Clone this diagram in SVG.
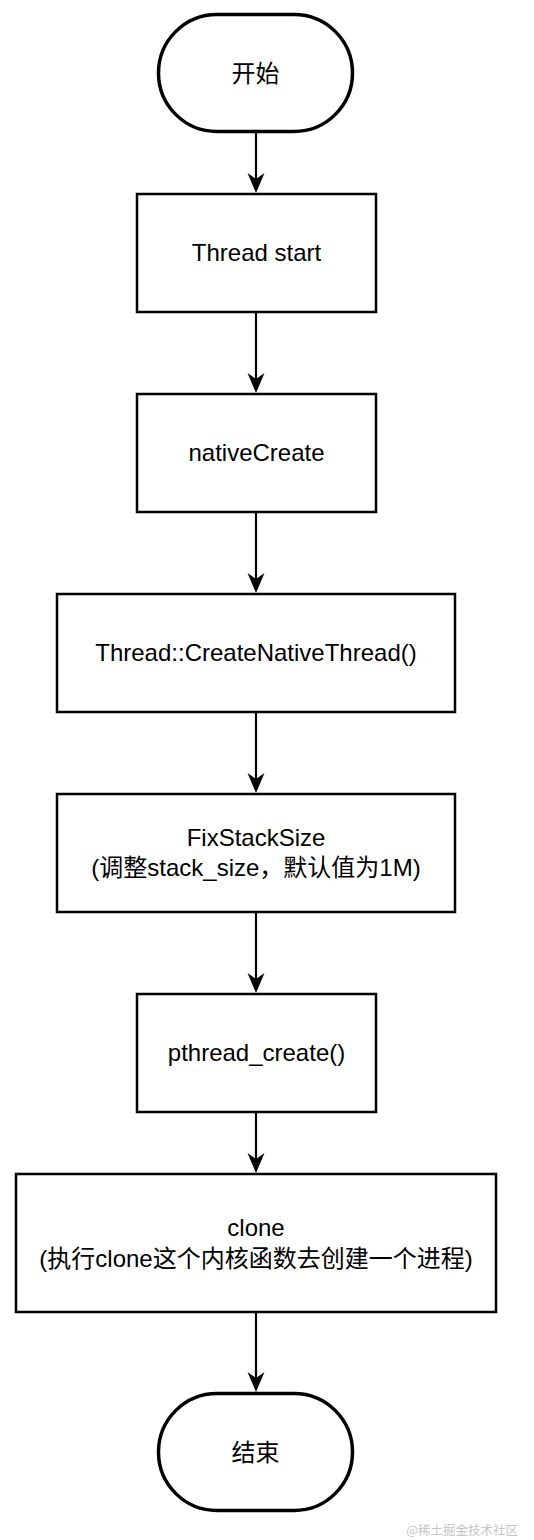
<svg xmlns="http://www.w3.org/2000/svg" width="534" height="1540" viewBox="0 0 534 1540">
<style>
.box{fill:#fff;stroke:#000;stroke-width:2.5}
.term{fill:#fff;stroke:#000;stroke-width:3.5}
.lbl{font-family:"Liberation Sans","Noto Sans CJK SC",Arial,sans-serif;font-size:24px;fill:#000;text-anchor:middle}
.edge{stroke:#000;stroke-width:2.2;fill:none}
.wm{font-family:"Noto Sans CJK SC",sans-serif;font-size:12.5px;fill:#c4c4c4;text-anchor:end}
</style>
<defs>
<marker id="arr" markerUnits="userSpaceOnUse" markerWidth="20" markerHeight="24" viewBox="-10 -22 20 24" refX="0" refY="0" orient="auto-start-reverse">
<path d="M0,0 L-8.5,-20 L0,-14 L8.5,-20 Z" fill="#000" transform="rotate(-90)"/>
</marker>
<path id="ah" d="M0,0 L-8.5,-20 L0,-14 L8.5,-20 Z" fill="#000"/>
</defs>
<rect width="534" height="1540" fill="#fff"/>
<g id="connectors">
<line class="edge" x1="256" y1="133" x2="256" y2="180"/><use href="#ah" x="256" y="193"/>
<line class="edge" x1="256" y1="313" x2="256" y2="380"/><use href="#ah" x="256" y="393"/>
<line class="edge" x1="256" y1="513" x2="256" y2="580"/><use href="#ah" x="256" y="593"/>
<line class="edge" x1="256" y1="713" x2="256" y2="780"/><use href="#ah" x="256" y="793"/>
<line class="edge" x1="256" y1="913" x2="256" y2="980"/><use href="#ah" x="256" y="993"/>
<line class="edge" x1="256" y1="1113" x2="256" y2="1160"/><use href="#ah" x="256" y="1173"/>
<line class="edge" x1="256" y1="1313" x2="256" y2="1379"/><use href="#ah" x="256" y="1392"/>
</g>
<g id="start">
<rect class="term" x="158.5" y="14.5" width="194" height="117" rx="58.5"/>
<text class="lbl" x="255.5" y="81.5">开始</text>
</g>
<g id="thread-start">
<rect class="box" x="137" y="194" width="239" height="118"/>
<text class="lbl" x="256.5" y="261">Thread start</text>
</g>
<g id="native-create">
<rect class="box" x="137" y="394" width="239" height="118"/>
<text class="lbl" x="256.5" y="461">nativeCreate</text>
</g>
<g id="create-native-thread">
<rect class="box" x="57" y="594" width="398" height="118"/>
<text class="lbl" x="256" y="661">Thread::CreateNativeThread()</text>
</g>
<g id="fix-stack-size">
<rect class="box" x="57" y="794" width="398" height="118"/>
<text class="lbl" x="256" y="846">FixStackSize</text>
<text class="lbl" x="256" y="876">(调整stack_size，默认值为1M)</text>
</g>
<g id="pthread-create">
<rect class="box" x="137" y="994" width="239" height="118"/>
<text class="lbl" x="256.5" y="1061">pthread_create()</text>
</g>
<g id="clone">
<rect class="box" x="16" y="1174" width="480" height="138"/>
<text class="lbl" x="256" y="1236">clone</text>
<text class="lbl" x="256" y="1267">(执行clone这个内核函数去创建一个进程)</text>
</g>
<g id="end">
<rect class="term" x="158.5" y="1393.5" width="194" height="117" rx="58.5"/>
<text class="lbl" x="255.5" y="1460.5">结束</text>
</g>
<text class="wm" x="518" y="1535">@稀土掘金技术社区</text>
</svg>
